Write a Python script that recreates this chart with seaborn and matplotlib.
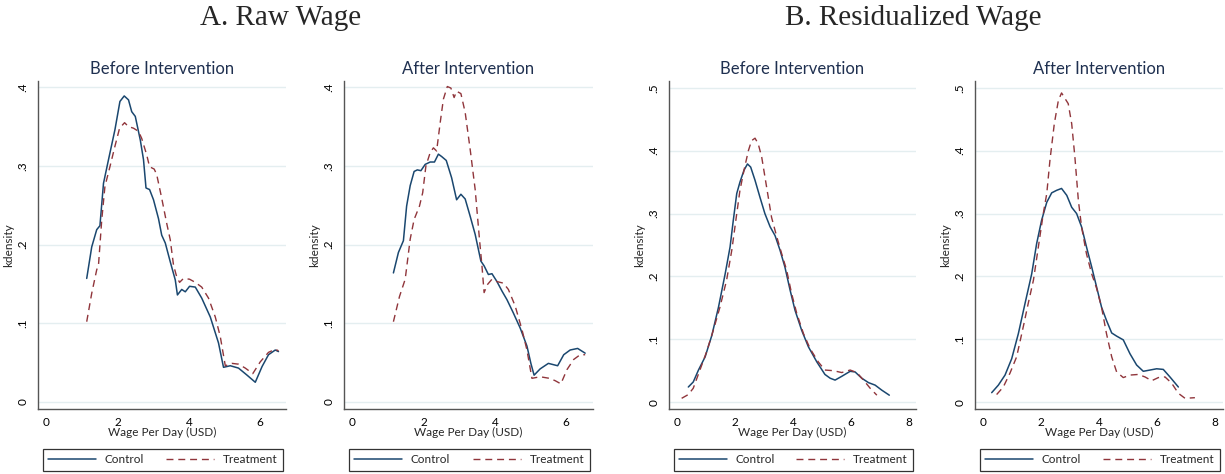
import numpy as np
import pandas as pd
import matplotlib
matplotlib.use("Agg")
import matplotlib.pyplot as plt
import seaborn as sns
from matplotlib.lines import Line2D

# ---- data ----
raw_before_ctrl_x = [1.14, 1.28, 1.42, 1.51, 1.61, 1.75, 1.93, 2.07, 2.19, 2.31, 2.40, 2.50, 2.64, 2.73,
                     2.80, 2.90, 3.01, 3.15, 3.24, 3.34, 3.48, 3.62, 3.68, 3.80, 3.90, 4.02, 4.18, 4.36,
                     4.60, 4.83, 4.97, 5.16, 5.39, 5.63, 5.86, 6.05, 6.23, 6.42, 6.51]
raw_before_ctrl_y = [0.157, 0.197, 0.219, 0.224, 0.278, 0.308, 0.346, 0.382, 0.389, 0.384, 0.369, 0.363,
                     0.333, 0.308, 0.272, 0.270, 0.257, 0.233, 0.212, 0.202, 0.178, 0.155, 0.136, 0.143,
                     0.140, 0.147, 0.146, 0.132, 0.108, 0.075, 0.044, 0.046, 0.043, 0.034, 0.025, 0.045,
                     0.060, 0.066, 0.064]
raw_before_treat_x = [1.14, 1.28, 1.42, 1.47, 1.56, 1.65, 1.79, 1.93, 2.06, 2.20, 2.31, 2.45, 2.59, 2.68,
                      2.82, 2.90, 3.03, 3.10, 3.24, 3.38, 3.48, 3.57, 3.66, 3.74, 3.85, 4.02, 4.18, 4.36,
                      4.55, 4.74, 4.88, 5.02, 5.21, 5.39, 5.58, 5.79, 6.00, 6.23, 6.42, 6.51]
raw_before_treat_y = [0.102, 0.138, 0.168, 0.174, 0.231, 0.274, 0.299, 0.325, 0.348, 0.355, 0.350, 0.348,
                      0.344, 0.335, 0.314, 0.299, 0.296, 0.289, 0.259, 0.227, 0.206, 0.174, 0.159, 0.152,
                      0.157, 0.156, 0.152, 0.146, 0.132, 0.108, 0.083, 0.046, 0.049, 0.048, 0.043, 0.036,
                      0.051, 0.063, 0.067, 0.065]

raw_after_ctrl_x = [1.16, 1.30, 1.44, 1.53, 1.63, 1.74, 1.83, 1.93, 2.05, 2.19, 2.31, 2.42, 2.51, 2.64,
                    2.79, 2.93, 3.05, 3.17, 3.31, 3.45, 3.61, 3.70, 3.82, 3.92, 4.06, 4.20, 4.34, 4.52,
                    4.71, 4.90, 5.01, 5.10, 5.27, 5.50, 5.76, 5.93, 6.11, 6.32, 6.53]
raw_after_ctrl_y = [0.164, 0.190, 0.205, 0.249, 0.275, 0.293, 0.295, 0.294, 0.302, 0.305, 0.305, 0.315,
                    0.312, 0.307, 0.285, 0.257, 0.264, 0.258, 0.236, 0.213, 0.179, 0.173, 0.162, 0.163,
                    0.153, 0.141, 0.130, 0.113, 0.094, 0.071, 0.049, 0.034, 0.042, 0.049, 0.046, 0.060,
                    0.066, 0.068, 0.062]
raw_after_treat_x = [1.16, 1.33, 1.49, 1.63, 1.74, 1.89, 1.98, 2.07, 2.19, 2.28, 2.37, 2.47, 2.56, 2.67,
                     2.77, 2.86, 2.93, 3.05, 3.17, 3.31, 3.45, 3.57, 3.64, 3.70, 3.79, 3.92, 4.06, 4.24,
                     4.38, 4.57, 4.76, 4.90, 5.04, 5.27, 5.53, 5.69, 5.85, 6.02, 6.21, 6.39, 6.53]
raw_after_treat_y = [0.102, 0.134, 0.156, 0.207, 0.232, 0.249, 0.266, 0.300, 0.317, 0.323, 0.319, 0.355,
                     0.385, 0.401, 0.399, 0.387, 0.395, 0.392, 0.368, 0.321, 0.270, 0.207, 0.173, 0.139,
                     0.149, 0.156, 0.153, 0.151, 0.143, 0.122, 0.092, 0.066, 0.030, 0.032, 0.030, 0.027,
                     0.023, 0.041, 0.054, 0.060, 0.060]

res_before_ctrl_x = [0.39, 0.56, 0.74, 0.97, 1.20, 1.43, 1.66, 1.83, 1.94, 2.06, 2.17, 2.31, 2.43, 2.54,
                     2.69, 2.86, 3.03, 3.21, 3.38, 3.55, 3.72, 3.90, 4.07, 4.30, 4.53, 4.82, 5.10, 5.28,
                     5.45, 5.68, 5.97, 6.14, 6.37, 6.60, 6.83, 7.06, 7.32]
res_before_ctrl_y = [0.024, 0.032, 0.051, 0.072, 0.106, 0.151, 0.204, 0.247, 0.289, 0.332, 0.350, 0.369,
                     0.379, 0.374, 0.353, 0.326, 0.300, 0.279, 0.265, 0.242, 0.215, 0.178, 0.146, 0.114,
                     0.088, 0.064, 0.044, 0.038, 0.035, 0.041, 0.049, 0.048, 0.038, 0.031, 0.027, 0.019,
                     0.011]
res_before_treat_x = [0.16, 0.39, 0.56, 0.79, 1.02, 1.25, 1.48, 1.71, 1.89, 2.06, 2.17, 2.31, 2.46, 2.57,
                      2.69, 2.80, 2.92, 3.09, 3.26, 3.44, 3.61, 3.78, 3.95, 4.13, 4.36, 4.59, 4.87, 5.10,
                      5.39, 5.68, 5.97, 6.20, 6.43, 6.66, 6.89]
res_before_treat_y = [0.006, 0.012, 0.022, 0.051, 0.080, 0.114, 0.151, 0.194, 0.242, 0.300, 0.337, 0.369,
                      0.400, 0.416, 0.420, 0.411, 0.390, 0.342, 0.294, 0.263, 0.236, 0.210, 0.173, 0.141,
                      0.109, 0.085, 0.064, 0.051, 0.050, 0.047, 0.051, 0.047, 0.035, 0.022, 0.011]

res_after_ctrl_x = [0.30, 0.53, 0.76, 0.99, 1.22, 1.45, 1.68, 1.85, 2.02, 2.20, 2.37, 2.54, 2.71, 2.89,
                    3.06, 3.23, 3.40, 3.57, 3.75, 3.92, 4.09, 4.26, 4.44, 4.61, 4.84, 5.07, 5.30, 5.53,
                    5.76, 5.99, 6.22, 6.45, 6.74]
res_after_ctrl_y = [0.015, 0.027, 0.043, 0.069, 0.109, 0.157, 0.204, 0.252, 0.289, 0.318, 0.333, 0.337,
                    0.340, 0.329, 0.310, 0.300, 0.279, 0.247, 0.215, 0.183, 0.151, 0.130, 0.110, 0.105,
                    0.099, 0.077, 0.059, 0.049, 0.051, 0.053, 0.052, 0.040, 0.024]
res_after_treat_x = [0.47, 0.70, 0.93, 1.16, 1.39, 1.56, 1.74, 1.91, 2.08, 2.20, 2.31, 2.46, 2.60, 2.71,
                     2.83, 2.94, 3.06, 3.17, 3.29, 3.40, 3.57, 3.75, 3.92, 4.09, 4.26, 4.44, 4.61, 4.84,
                     5.07, 5.36, 5.59, 5.82, 6.05, 6.28, 6.51, 6.74, 6.97, 7.31]
res_after_treat_y = [0.012, 0.024, 0.046, 0.072, 0.120, 0.157, 0.194, 0.247, 0.300, 0.332, 0.385, 0.443,
                     0.480, 0.492, 0.483, 0.475, 0.443, 0.390, 0.321, 0.279, 0.236, 0.204, 0.181, 0.151,
                     0.109, 0.072, 0.048, 0.039, 0.043, 0.044, 0.040, 0.034, 0.039, 0.040, 0.030, 0.014,
                     0.006, 0.007]

group_names = ["Control", "Treatment"]
panel_titles = ["Before Intervention", "After Intervention", "Before Intervention", "After Intervention"]
section_titles = ["A. Raw Wage", "B. Residualized Wage"]
xticks_raw = [0, 2, 4, 6]
xticks_res = [0, 2, 4, 6, 8]
yticks_raw = [0, 0.1, 0.2, 0.3, 0.4]
yticks_res = [0, 0.1, 0.2, 0.3, 0.4, 0.5]
ytick_labels_raw = ["0", ".1", ".2", ".3", ".4"]
ytick_labels_res = ["0", ".1", ".2", ".3", ".4", ".5"]

# ---- style ----
sns.set_style("white")
plt.rcParams["font.family"] = ["Lato", "DejaVu Sans"]

ctrl_color = "#1A476F"
treat_color = "#90353B"
title_color = "#1f3050"
axis_color = "#555555"
grid_color = "#e4eef0"

W, H = 1225, 474
fig = plt.figure(figsize=(W / 100, H / 100), dpi=100)

# pixel boxes for each panel: left, right
boxes = [(38, 286), (344, 593), (669, 916), (975, 1223)]
top_px, bot_px = 81, 409
xlims = [(-0.224, 6.72), (-0.224, 6.75), (-0.276, 8.24), (-0.276, 8.28)]
ylims = [(-0.009, 0.408), (-0.009, 0.408), (-0.011, 0.511), (-0.011, 0.511)]

panels = [
    (raw_before_ctrl_x, raw_before_ctrl_y, raw_before_treat_x, raw_before_treat_y),
    (raw_after_ctrl_x, raw_after_ctrl_y, raw_after_treat_x, raw_after_treat_y),
    (res_before_ctrl_x, res_before_ctrl_y, res_before_treat_x, res_before_treat_y),
    (res_after_ctrl_x, res_after_ctrl_y, res_after_treat_x, res_after_treat_y),
]

for i, (cx, cy, tx, ty) in enumerate(panels):
    l, r = boxes[i]
    ax = fig.add_axes([l / W, 1 - bot_px / H, (r - l) / W, (bot_px - top_px) / H])

    ctrl = pd.DataFrame({"wage": cx, "kdensity": cy})
    treat = pd.DataFrame({"wage": tx, "kdensity": ty})
    sns.lineplot(data=ctrl, x="wage", y="kdensity", ax=ax, color=ctrl_color, lw=1.1, estimator=None)
    sns.lineplot(data=treat, x="wage", y="kdensity", ax=ax, color=treat_color, lw=1.0,
                 linestyle=(0, (5, 3.5)), estimator=None)

    raw = i < 2
    ax.set_xlim(*xlims[i])
    ax.set_ylim(*ylims[i])
    ax.set_xticks(xticks_raw if raw else xticks_res)
    ax.set_yticks(yticks_raw if raw else yticks_res)
    ax.set_yticklabels(ytick_labels_raw if raw else ytick_labels_res, rotation=90, va="center")

    ax.yaxis.grid(True, color=grid_color, lw=1.0)
    ax.set_axisbelow(True)
    for s in ["top", "right"]:
        ax.spines[s].set_visible(False)
    for s in ["left", "bottom"]:
        ax.spines[s].set_color(axis_color)
        ax.spines[s].set_linewidth(1.0)
    ax.tick_params(axis="both", direction="out", length=4, width=1.0, color=axis_color,
                   labelsize=8.5, labelcolor="black", pad=2)
    ax.tick_params(axis="y", pad=3)

    ax.set_xlabel("Wage Per Day (USD)", fontsize=8.5, labelpad=-1)
    ax.set_ylabel("kdensity", fontsize=8.5, labelpad=2)
    ax.set_title(panel_titles[i], fontsize=12, color=title_color, pad=5)

    handles = [Line2D([], [], color=ctrl_color, lw=1.1),
               Line2D([], [], color=treat_color, lw=1.0, linestyle=(0, (5, 3.5)))]
    axw = r - l
    axh = bot_px - top_px
    leg = ax.legend(handles, group_names, loc="upper left", ncol=2, mode="expand",
                    bbox_to_anchor=((5) / axw, -40 / axh, (axw - 8) / axw, 0.0),
                    borderaxespad=0, fontsize=8.5, handlelength=4.0, handletextpad=0.8,
                    frameon=True, fancybox=False, edgecolor="black", borderpad=0.45)
    leg.get_frame().set_linewidth(0.9)

fig.text(281 / W, 1 - 25 / H, section_titles[0], ha="center", va="baseline",
         fontsize=21, family=["Liberation Serif", "DejaVu Serif"])
fig.text(913 / W, 1 - 25 / H, section_titles[1], ha="center", va="baseline",
         fontsize=21, family=["Liberation Serif", "DejaVu Serif"])

fig.savefig("out.png", dpi=100)
